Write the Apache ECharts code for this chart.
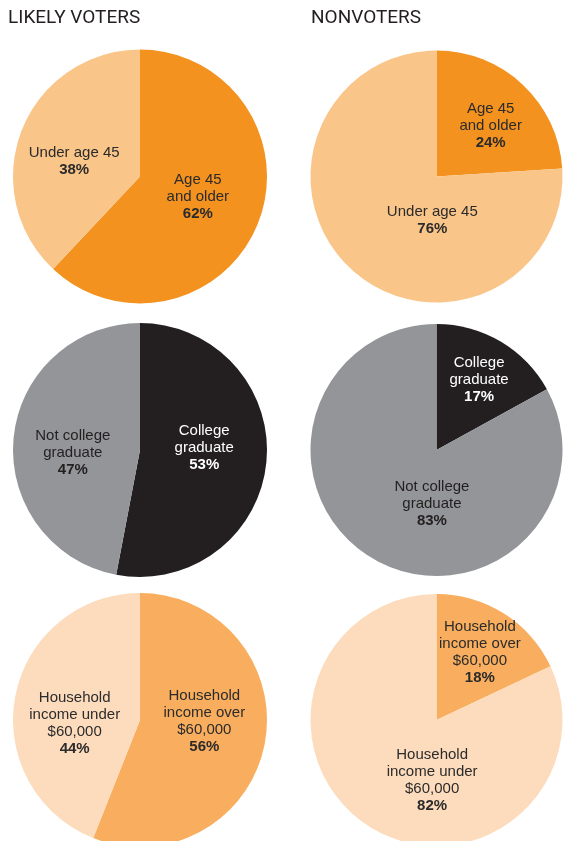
<!DOCTYPE html>
<html>
<head>
<meta charset="utf-8">
<script src="https://cdn.jsdelivr.net/npm/echarts@6/dist/echarts.min.js"></script>
<style>
  html, body { margin: 0; padding: 0; background: #ffffff; }
  #chart { width: 572px; height: 841px; }
</style>
</head>
<body>
<div id="chart"></div>
<script>
// Column headings
const groupTitles = ['LIKELY VOTERS', 'NONVOTERS'];

// Age
const ageLabels = ['Age 45\nand older', 'Under age 45'];
const likelyAge = [62, 38];
const nonAge = [24, 76];

// Education
const eduLabels = ['College\ngraduate', 'Not college\ngraduate'];
const likelyEdu = [53, 47];
const nonEdu = [17, 83];

// Income
const incomeLabels = ['Household\nincome over\n$60,000', 'Household\nincome under\n$60,000'];
const likelyIncome = [56, 44];
const nonIncome = [18, 82];

// Styling per row: slice colours and label text colours
const rowStyles = [
  { colors: ['#F3921F', '#FAC589'], text: ['#2b2b2b', '#2b2b2b'] },
  { colors: ['#231F20', '#939598'], text: ['#ffffff', '#231F20'] },
  { colors: ['#F8AE5E', '#FDDCBD'], text: ['#2b2b2b', '#2b2b2b'] }
];

// Label nudges (dx, dy) from the default inside position
const labelNudges = [
  [[[-4, -4], [-4, 9]], [[9, -3], [41, -4]]],
  [[[-2, -8], [-1, 9]], [[9, -13], [29, -3]]],
  [[[-1, -11], [0, 16]], [[8, -12], [31, 5]]]
];

const rows = [
  { labels: ageLabels, cols: [likelyAge, nonAge], cy: 176.5 },
  { labels: eduLabels, cols: [likelyEdu, nonEdu], cy: 450 },
  { labels: incomeLabels, cols: [likelyIncome, nonIncome], cy: 720 }
];
const colX = [140, 436.5];
const radius = 127;

const series = [];
rows.forEach(function (row, ri) {
  row.cols.forEach(function (values, ci) {
    const style = rowStyles[ri];
    const nudges = labelNudges[ri][ci];
    series.push({
      type: 'pie',
      center: [colX[ci], row.cy],
      radius: [0, ci === 0 ? radius : radius - 1],
      startAngle: 90,
      clockwise: true,
      avoidLabelOverlap: false,
      silent: true,
      animation: false,
      itemStyle: { borderWidth: 0 },
      labelLine: { show: false },
      data: values.map(function (v, i) {
        const c = style.text[i];
        return {
          name: row.labels[i],
          value: v,
          itemStyle: { color: style.colors[i] },
          label: {
            show: true,
            position: 'inside',
            formatter: function (p) {
              const lines = p.name.split('\n');
              return '{n|' + lines.join('}\n{n|') + '}\n{p|' + p.value + '%}';
            },
            rich: {
              n: { fontFamily: 'Liberation Sans, Arial, sans-serif', fontSize: 15, lineHeight: 17, color: c },
              p: { fontFamily: 'Liberation Sans, Arial, sans-serif', fontSize: 15, fontWeight: 'bold', lineHeight: 17, color: c }
            }
          }
        };
      }),
      labelLayout: function (params) {
        const n = nudges[params.dataIndex];
        return { dx: n[0], dy: n[1] };
      }
    });
  });
});

const chart = echarts.init(document.getElementById('chart'), null, { renderer: 'canvas' });
chart.setOption({
  backgroundColor: '#ffffff',
  title: groupTitles.map(function (t, i) {
    return {
      text: t,
      left: i === 0 ? 8 : 311,
      top: 9,
      padding: 0,
      textStyle: {
        fontFamily: 'Roboto, Liberation Sans, sans-serif',
        fontWeight: 400,
        fontSize: 19,
        color: '#231F20'
      }
    };
  }),
  series: series
});
</script>
</body>
</html>
